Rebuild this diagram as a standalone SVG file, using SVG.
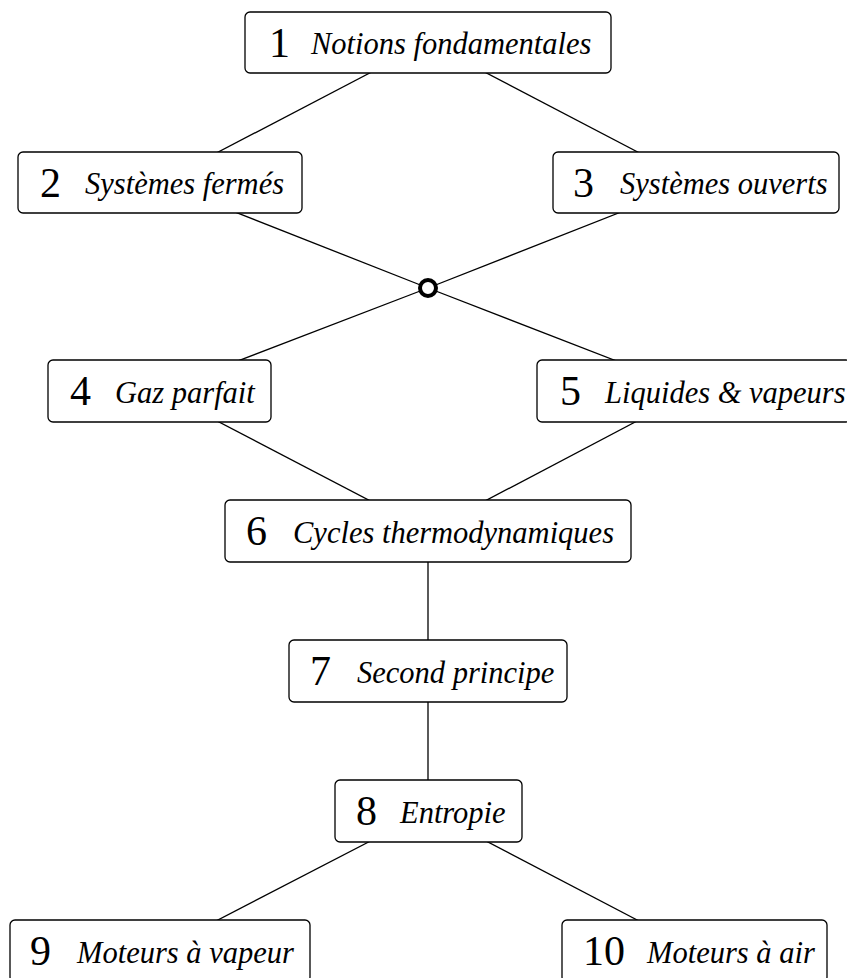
<svg xmlns="http://www.w3.org/2000/svg" width="847" height="978" viewBox="0 0 847 978">
<style>
.box{fill:#fff;stroke:#000;stroke-width:1.3}
.num{font-family:"Liberation Serif","DejaVu Serif",serif;font-size:42px;fill:#000}
.lab{font-family:"Liberation Serif","DejaVu Serif",serif;font-style:italic;font-size:30.5px;fill:#000}
.edge{stroke:#000;stroke-width:1.3;fill:none}
</style>
<rect width="847" height="978" fill="#fff"/>
<g id="connectors">
<line class="edge" x1="428" y1="42.5" x2="160" y2="182.5"/>
<line class="edge" x1="428" y1="42.5" x2="696" y2="182.5"/>
<line class="edge" x1="160" y1="182.5" x2="428" y2="288"/>
<line class="edge" x1="696" y1="182.5" x2="428" y2="288"/>
<line class="edge" x1="428" y1="288" x2="159.5" y2="391"/>
<line class="edge" x1="428" y1="288" x2="694" y2="391"/>
<line class="edge" x1="159.5" y1="391" x2="428" y2="531"/>
<line class="edge" x1="694" y1="391" x2="428" y2="531"/>
<line class="edge" x1="428" y1="531" x2="428" y2="671"/>
<line class="edge" x1="428" y1="671" x2="428" y2="811"/>
<line class="edge" x1="428.5" y1="811" x2="160" y2="950"/>
<line class="edge" x1="428.5" y1="811" x2="694.5" y2="950"/>
<circle cx="428" cy="288" r="8" fill="#fff" stroke="#000" stroke-width="4"/>
</g>
<g id="n1"><rect class="box" x="245" y="12" width="366" height="61" rx="5"/><text class="num" x="269" y="57">1</text><text class="lab" x="311" y="54">Notions fondamentales</text></g>
<g id="n2"><rect class="box" x="18" y="152" width="284" height="61" rx="5"/><text class="num" x="40" y="197">2</text><text class="lab" x="85" y="194">Systèmes fermés</text></g>
<g id="n3"><rect class="box" x="553" y="152" width="286" height="61" rx="5"/><text class="num" x="573" y="197">3</text><text class="lab" x="620" y="194">Systèmes ouverts</text></g>
<g id="n4"><rect class="box" x="48" y="360" width="223" height="62" rx="5"/><text class="num" x="70" y="405">4</text><text class="lab" x="115" y="403">Gaz parfait</text></g>
<g id="n5"><rect class="box" x="537" y="360" width="314" height="62" rx="5"/><text class="num" x="560" y="405">5</text><text class="lab" x="605" y="403">Liquides &amp; vapeurs</text></g>
<g id="n6"><rect class="box" x="225" y="500" width="406" height="62" rx="5"/><text class="num" x="246" y="545">6</text><text class="lab" x="293" y="543">Cycles thermodynamiques</text></g>
<g id="n7"><rect class="box" x="289" y="640" width="278" height="62" rx="5"/><text class="num" x="310" y="685">7</text><text class="lab" x="357" y="683">Second principe</text></g>
<g id="n8"><rect class="box" x="335" y="780" width="187" height="62" rx="5"/><text class="num" x="356" y="825">8</text><text class="lab" x="400" y="823">Entropie</text></g>
<g id="n9"><rect class="box" x="10" y="920" width="300" height="62" rx="5"/><text class="num" x="30" y="965">9</text><text class="lab" x="77" y="963">Moteurs à vapeur</text></g>
<g id="n10"><rect class="box" x="562" y="920" width="265" height="62" rx="5"/><text class="num" x="583" y="965">10</text><text class="lab" x="647" y="963">Moteurs à air</text></g>
</svg>
